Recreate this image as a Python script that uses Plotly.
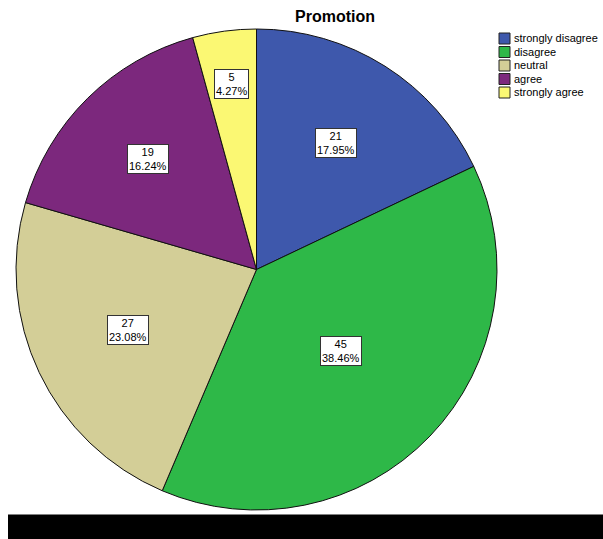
import math
import plotly.graph_objects as go

# Survey responses for "Promotion"
categories = ["strongly disagree", "disagree", "neutral", "agree", "strongly agree"]
counts = [21, 45, 27, 19, 5]
colors = ["#3E58AC", "#2EB848", "#D3CE97", "#7C287D", "#FBF873"]

W, H = 603, 539

# pie placement in pixels
CX, CY, R = 256.5, 269.5, 240.5
# radial position of each value label, as a fraction of the radius
label_radius = [0.62, 0.49, 0.59, 0.645, 0.78]


def px_x(x):
    return x / W


def px_y(y):
    return 1 - y / H


total = sum(counts)
percents = [c / total * 100 for c in counts]

fig = go.Figure()
fig.add_trace(go.Pie(
    labels=categories,
    values=counts,
    sort=False,
    direction="clockwise",
    rotation=0,
    marker=dict(colors=colors, line=dict(color="#111111", width=1)),
    textinfo="none",
    hoverinfo="label+value+percent",
    showlegend=False,
    domain=dict(x=[px_x(CX - R), px_x(CX + R)], y=[px_y(CY + R), px_y(CY - R)]),
))

annotations = []
shapes = []

# value boxes placed at each slice's mid-angle
cum = 0.0
for cnt, pct, f in zip(counts, percents, label_radius):
    mid = (cum + cnt / 2) / total * 2 * math.pi
    cum += cnt
    lx = CX + R * f * math.sin(mid)
    ly = CY - R * f * math.cos(mid)
    annotations.append(dict(
        x=px_x(lx), y=px_y(ly), xref="paper", yref="paper",
        text=f"{cnt}<br>{pct:.2f}%", showarrow=False,
        xanchor="center", yanchor="middle",
        font=dict(family="Liberation Sans, Arial", size=11, color="#000000"),
        bgcolor="#FFFFFF", bordercolor="#333333", borderwidth=1, borderpad=1,
    ))

# legend drawn as swatches + labels
LEG_X, LEG_Y0, LEG_DY, SW = 499, 38.5, 13.5, 11
for i, (cat, col) in enumerate(zip(categories, colors)):
    yc = LEG_Y0 + i * LEG_DY
    shapes.append(dict(
        type="rect", xref="paper", yref="paper",
        x0=px_x(LEG_X), x1=px_x(LEG_X + SW),
        y0=px_y(yc + SW / 2), y1=px_y(yc - SW / 2),
        fillcolor=col, line=dict(color="#222222", width=1),
    ))
    annotations.append(dict(
        x=px_x(LEG_X + SW + 2), y=px_y(yc), xref="paper", yref="paper",
        text=cat, showarrow=False, xanchor="left", yanchor="middle",
        font=dict(family="Liberation Sans, Arial", size=11, color="#000000"),
    ))

# title
annotations.append(dict(
    x=px_x(335), y=px_y(17), xref="paper", yref="paper",
    text="<b>Promotion</b>", showarrow=False, xanchor="center", yanchor="middle",
    font=dict(family="Liberation Sans, Arial", size=16, color="#000000"),
))

# black footer band
shapes.append(dict(
    type="rect", xref="paper", yref="paper",
    x0=px_x(8), x1=1, y0=0, y1=px_y(514.5),
    fillcolor="#000000", line=dict(width=0), layer="above",
))

fig.update_layout(
    width=W, height=H,
    margin=dict(l=0, r=0, t=0, b=0),
    paper_bgcolor="#FFFFFF",
    plot_bgcolor="#FFFFFF",
    annotations=annotations,
    shapes=shapes,
)

fig.write_html("out.html")
